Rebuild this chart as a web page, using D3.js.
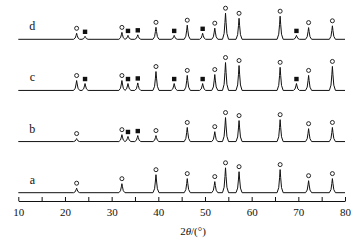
<!DOCTYPE html>
<html>
<head>
<meta charset="utf-8">
<script src="https://cdn.jsdelivr.net/npm/d3@7"></script>
<style>
  body { margin: 0; background: #fff; }
  svg { display: block; }
  text { font-family: "Liberation Serif", "Times New Roman", serif; fill: #111; }
</style>
</head>
<body>
<div id="chart"></div>
<script>
// Pattern names, bottom to top
const samples = ["a", "b", "c", "d"];

// Peak positions (2theta, degrees)
const circlePeaks = [22.5, 32.2, 39.5, 46.2, 52.1, 54.4, 57.3, 66.1, 72.2, 77.3];
const squarePeaks = [24.3, 33.5, 35.6, 43.4, 49.5, 69.6];

// Peak intensities (a.u.) for each pattern, same order as above
const circleA = [15, 30, 60, 47, 37, 83, 70, 77, 40, 47];
const circleB = [10, 23, 20, 47, 33, 80, 70, 73, 43, 47];
const circleC = [33, 33, 63, 50, 53, 93, 83, 77, 50, 80];
const circleD = [20, 23, 40, 47, 37, 87, 70, 77, 39, 45];

const squareA = [0, 0, 0, 0, 0, 0];
const squareB = [0, 17, 20, 0, 0, 0];
const squareC = [23, 23, 25, 23, 23, 23];
const squareD = [10, 13, 15, 13, 20, 13];

const circleInt = [circleA, circleB, circleC, circleD];
const squareInt = [squareA, squareB, squareC, squareD];

const xTicks = d3.range(10, 81, 5);

// Set dimensions
const width = 364;
const height = 245;

const svg = d3
  .select("#chart")
  .append("svg")
  .attr("width", width)
  .attr("height", height);

// Scales
const x = d3.scaleLinear().domain([10, 80]).range([18.3, 345]);
const row = d3.scaleLinear().domain([0, 3]).range([192.7, 39.3]); // baseline of each pattern
const yInt = d3.scaleLinear().domain([0, 100]).range([0, 30]); // intensity -> px

// Peak shape template (offset in degrees, fraction of height)
const shape = [[-0.65, 0], [-0.3, 0.22], [-0.12, 0.65], [0, 1], [0.12, 0.65], [0.3, 0.22], [0.65, 0]];

function profileAt(t, peaks) {
  let s = 0;
  peaks.forEach((p) => {
    const d = t - p.pos;
    if (d <= shape[0][0] || d >= shape[shape.length - 1][0]) return;
    for (let k = 0; k < shape.length - 1; k++) {
      const [x0, f0] = shape[k];
      const [x1, f1] = shape[k + 1];
      if (d >= x0 && d <= x1) {
        s += p.h * (f0 + ((d - x0) / (x1 - x0)) * (f1 - f0));
        break;
      }
    }
  });
  return s;
}

samples.forEach((name, i) => {
  const peaks = circlePeaks
    .map((pos, j) => ({ pos, h: circleInt[i][j] }))
    .concat(squarePeaks.map((pos, j) => ({ pos, h: squareInt[i][j] })))
    .filter((p) => p.h > 0);

  // vertices of the trace: ends plus template points of every peak
  const xs = [10, 80];
  peaks.forEach((p) => shape.forEach((s) => xs.push(p.pos + s[0])));
  xs.sort((m, n) => m - n);
  const pts = xs.map((t) => [t, profileAt(t, peaks)]);

  const base = row(i);
  const line = d3
    .line()
    .x((d) => x(d[0]))
    .y((d) => base - yInt(d[1]));

  svg
    .append("path")
    .datum(pts)
    .attr("fill", "none")
    .attr("stroke", "#111")
    .attr("stroke-width", 1)
    .attr("stroke-linejoin", "round")
    .attr("d", line);

  // circle markers
  svg
    .selectAll(null)
    .data(circlePeaks.map((pos, j) => ({ pos, h: circleInt[i][j] })).filter((d) => d.h > 0))
    .enter()
    .append("circle")
    .attr("cx", (d) => x(d.pos))
    .attr("cy", (d) => base - yInt(profileAt(d.pos, peaks)) - 5)
    .attr("r", 2)
    .attr("fill", "#fff")
    .attr("stroke", "#111")
    .attr("stroke-width", 0.9);

  // square markers
  svg
    .selectAll(null)
    .data(squarePeaks.map((pos, j) => ({ pos, h: squareInt[i][j] })).filter((d) => d.h > 0))
    .enter()
    .append("rect")
    .attr("x", (d) => x(d.pos) - 2.2)
    .attr("y", (d) => base - yInt(profileAt(d.pos, peaks)) - 4.5 - 2.2)
    .attr("width", 4.4)
    .attr("height", 4.4)
    .attr("fill", "#111");

  // pattern label
  svg
    .append("text")
    .attr("x", x(13))
    .attr("y", base - 9)
    .attr("text-anchor", "middle")
    .attr("font-size", 12)
    .text(name);
});

// x axis with ticks pointing up
const axisY = 201;
const xAxis = svg
  .append("g")
  .attr("transform", `translate(0, ${axisY})`)
  .call(
    d3
      .axisBottom(x)
      .tickValues(xTicks)
      .tickSizeInner(-4)
      .tickSizeOuter(0)
      .tickPadding(7)
      .tickFormat((d) => (d % 10 === 0 ? d : ""))
  );

xAxis.select(".domain").attr("stroke", "#111");
xAxis.selectAll(".tick line").attr("stroke", "#111");
xAxis
  .selectAll(".tick text")
  .attr("font-size", 11)
  .attr("font-family", "Liberation Serif, serif")
  .attr("fill", "#111");

// axis title
const title = svg
  .append("text")
  .attr("x", 193)
  .attr("y", 235)
  .attr("text-anchor", "middle")
  .attr("font-size", 11);
title.append("tspan").text("2");
title.append("tspan").attr("font-style", "italic").text("θ");
title.append("tspan").text("/(°)");
</script>
</body>
</html>
